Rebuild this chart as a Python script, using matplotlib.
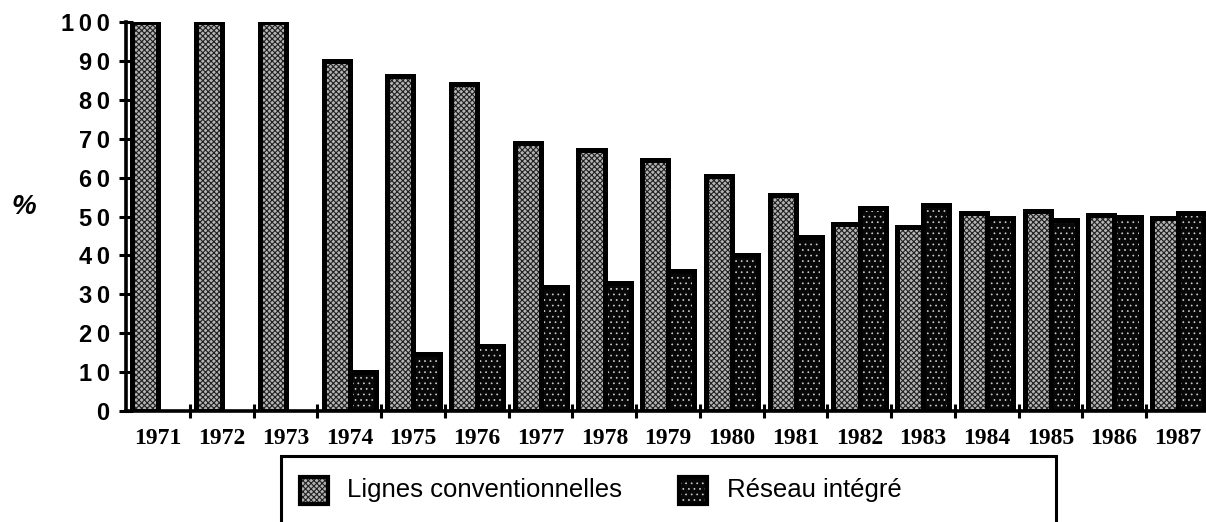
import matplotlib
matplotlib.use("Agg")
import matplotlib.pyplot as plt
from matplotlib.patches import Rectangle
import numpy as np

years = ["1971", "1972", "1973", "1974", "1975", "1976", "1977", "1978", "1979",
         "1980", "1981", "1982", "1983", "1984", "1985", "1986", "1987"]
lignes_conv = [100, 100, 100, 90, 86, 84, 69, 67, 64.5, 60.5, 55.5, 48, 47.4, 50.8, 51.5, 50.4, 49.5]
reseau_integre = [0, 0, 0, 10, 14.7, 16.7, 32, 33, 36, 40, 44.8, 52.3, 53, 49.5, 49, 50, 50.8]
yticks = [0, 10, 20, 30, 40, 50, 60, 70, 80, 90, 100]
ytick_labels = ["\u2009".join(str(v)) for v in yticks]
legend_labels = ["Lignes conventionnelles", "Réseau intégré"]

W, H = 1206, 522
fig = plt.figure(figsize=(W / 100, H / 100), dpi=100)
fig.patch.set_facecolor("white")


def fx(px):
    return px / W


def fy(py):
    return 1 - py / H


ax_left, ax_right = 126.3, 1209.7
ax_top, ax_bot = 22, 411
ax = fig.add_axes([fx(ax_left), fy(ax_bot), (ax_right - ax_left) / W, (ax_bot - ax_top) / H])

conv_face = "#b4b4b4"
conv_hatch = "#202020"
res_face = "#080808"
res_hatch = "#d0d0d0"
lw = 3.6

x = np.arange(len(years))
bw = 0.41
xc = x - bw / 2 + 0.005
xr = x + bw / 2 + 0.005

plt.rcParams["hatch.linewidth"] = 0.8
ax.bar(xc, lignes_conv, bw, facecolor=conv_face, edgecolor=conv_hatch, hatch="xxxxxx", linewidth=0, zorder=2)
plt.rcParams["hatch.linewidth"] = 0.5
ax.bar(xr, reseau_integre, bw, facecolor=res_face, edgecolor=res_hatch, hatch="...", linewidth=0, zorder=2)
# outlines
ax.bar(xc, lignes_conv, bw, fill=False, edgecolor="black", linewidth=lw, zorder=3)
ax.bar(xr, [v if v > 0 else np.nan for v in reseau_integre], bw, fill=False, edgecolor="black", linewidth=lw, zorder=3)

ax.set_xlim(-0.5, len(years) - 0.5)
ax.set_ylim(0, 100)

for s in ["top", "right"]:
    ax.spines[s].set_visible(False)
for s in ["left", "bottom"]:
    ax.spines[s].set_linewidth(2.6)
    ax.spines[s].set_zorder(4)

ax.set_yticks(yticks)
ax.set_yticklabels(ytick_labels, fontfamily=["Liberation Sans", "DejaVu Sans"], fontweight="bold", fontsize=17)
ax.tick_params(axis="y", direction="inout", length=10, width=2.2, pad=7)

ax.set_xticks(x)
ax.set_xticklabels(years, fontfamily="Liberation Serif", fontweight="bold", fontsize=17)
ax.tick_params(axis="x", which="major", length=0, pad=12)
ax.set_xticks(np.arange(0.5, len(years) - 0.5, 1.0), minor=True)
ax.tick_params(axis="x", which="minor", direction="inout", length=10, width=2.2)

fig.text(fx(24), fy(207), "%", fontfamily="Liberation Sans", fontstyle="italic", fontweight="bold",
         fontsize=20, ha="center", va="center")

# legend box (clipped at bottom of figure)
fig.add_artist(Rectangle((fx(281), fy(560)), fx(1056) - fx(281), fy(456) - fy(560),
                         transform=fig.transFigure, fill=False, edgecolor="black", linewidth=2.2))


def swatch(x0, face, hcol, hatch, hlw):
    y0, size_w, size_h = 504, 28, 27
    plt.rcParams["hatch.linewidth"] = hlw
    fig.add_artist(Rectangle((fx(x0), fy(y0)), size_w / W, size_h / H, transform=fig.transFigure,
                             facecolor=face, edgecolor=hcol, hatch=hatch, linewidth=0))
    fig.add_artist(Rectangle((fx(x0), fy(y0)), size_w / W, size_h / H, transform=fig.transFigure,
                             fill=False, edgecolor="black", linewidth=3))


swatch(300, conv_face, conv_hatch, "xxxxxx", 0.8)
swatch(679, res_face, res_hatch, "...", 0.5)
fig.text(fx(347), fy(490), legend_labels[0], fontfamily="Liberation Sans", fontsize=18.5,
         ha="left", va="center")
fig.text(fx(727), fy(490), legend_labels[1], fontfamily="Liberation Sans", fontsize=18.5,
         ha="left", va="center")

fig.savefig("out.png", dpi=100, facecolor="white")
